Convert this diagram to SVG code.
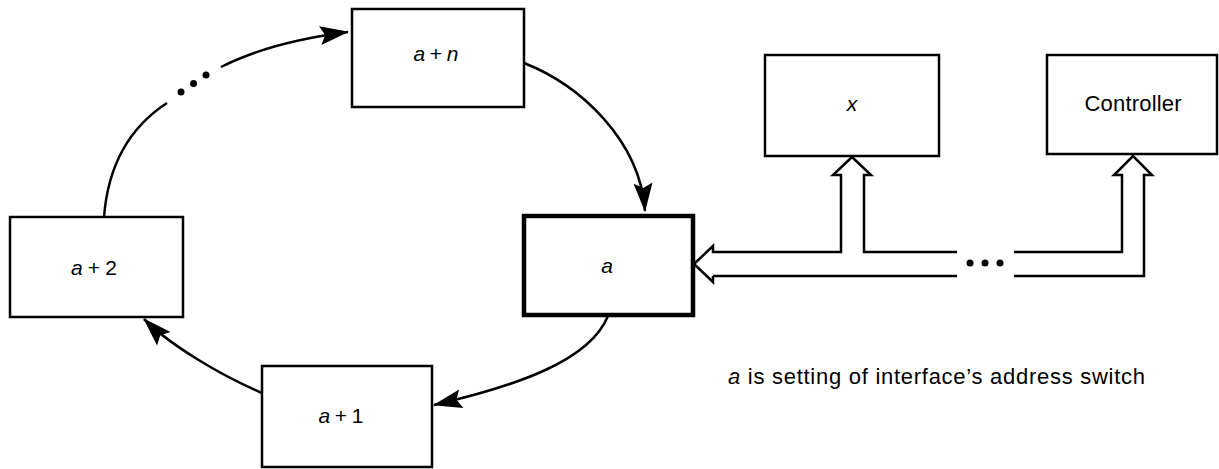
<svg xmlns="http://www.w3.org/2000/svg" width="1219" height="469" viewBox="0 0 1219 469">
<style>
.box{fill:#fff;stroke:#000;stroke-width:2.5}
.thick{fill:#fff;stroke:#000;stroke-width:4.5}
.lbl{font-family:"Liberation Sans",Arial,sans-serif;font-size:21px;fill:#000;text-anchor:middle}
.it{font-style:italic}
.cap{font-family:"Liberation Sans",Arial,sans-serif;font-size:22px;fill:#000}
.conn{fill:none;stroke:#000;stroke-width:2.5}
.bus{fill:none;stroke:#000;stroke-width:2.5;stroke-linejoin:miter}
</style>
<defs>
<marker id="ah" markerUnits="userSpaceOnUse" markerWidth="34" markerHeight="26" refX="0" refY="0" viewBox="-31 -13 34 26" orient="auto">
<path d="M1,0 L-28,-9.5 L-23,0 L-28,9.5 Z" fill="#000"/>
</marker>
</defs>
<rect width="1219" height="469" fill="#fff"/>
<g id="connectors">
<path class="conn" d="M104,217 Q110,140 167,103"/>
<path class="conn" d="M221,67 Q270,42 348,32" marker-end="url(#ah)"/>
<circle cx="181" cy="92" r="3.5"/>
<circle cx="193.5" cy="83.5" r="3.5"/>
<circle cx="206" cy="75" r="3.5"/>
<path class="conn" d="M524,63 C580,85 640,140 645,211" marker-end="url(#ah)"/>
<path class="conn" d="M608,316 C590,360 520,385 434,405" marker-end="url(#ah)"/>
<path class="conn" d="M262,393 C220,375 170,345 144,319" marker-end="url(#ah)"/>
<g id="bus">
<path class="bus" d="M713,276 L713,282 L694,264 L713,246 L713,252 L841,252 L841,175 L833,175 L852,157 L871,175 L864,175 L864,252 L957,252"/>
<path class="bus" d="M713,276 L957,276"/>
<path class="bus" d="M1014,252 L1122,252 L1122,175 L1114,175 L1133,156 L1152,175 L1144,175 L1144,276 L1014,276"/>
<circle cx="970" cy="263" r="3.5"/>
<circle cx="985" cy="263" r="3.5"/>
<circle cx="1000" cy="263" r="3.5"/>
</g>
</g>
<g id="node-an">
<rect class="box" x="352" y="9" width="172" height="98"/>
<text class="lbl" x="436" y="61" textLength="45" lengthAdjust="spacing"><tspan class="it">a</tspan>+<tspan class="it">n</tspan></text>
</g>
<g id="node-a">
<rect class="thick" x="524" y="216" width="169" height="99"/>
<text class="lbl it" x="607" y="273">a</text>
</g>
<g id="node-a1">
<rect class="box" x="262" y="366" width="170" height="101"/>
<text class="lbl" x="341" y="423" textLength="45" lengthAdjust="spacing"><tspan class="it">a</tspan>+1</text>
</g>
<g id="node-a2">
<rect class="box" x="10" y="217" width="173" height="100"/>
<text class="lbl" x="94" y="275" textLength="46" lengthAdjust="spacing"><tspan class="it">a</tspan>+2</text>
</g>
<g id="node-x">
<rect class="box" x="765" y="55" width="174" height="101"/>
<text class="lbl it" x="852" y="111">x</text>
</g>
<g id="node-controller">
<rect class="box" x="1047" y="55" width="170" height="99"/>
<text class="cap" x="1133" y="111" text-anchor="middle" textLength="97" lengthAdjust="spacing">Controller</text>
</g>
<g id="caption">
<text class="cap" x="728" y="384" textLength="417" lengthAdjust="spacing"><tspan class="it">a</tspan> is setting of interface’s address switch</text>
</g>
</svg>
